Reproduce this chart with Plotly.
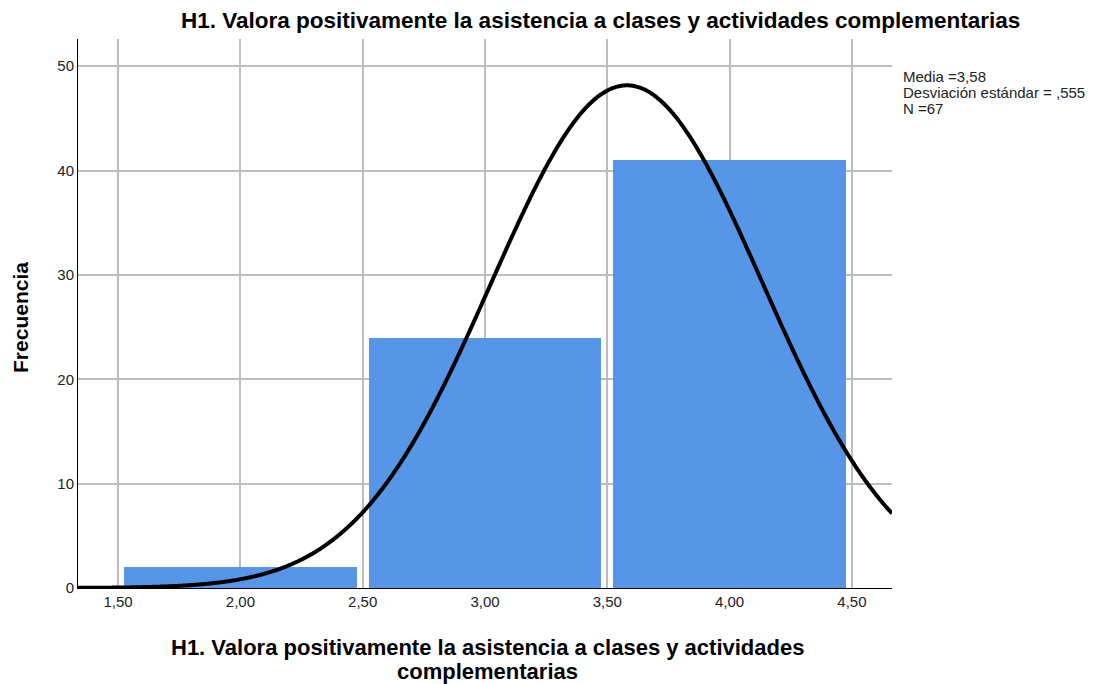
import numpy as np
import plotly.graph_objects as go

# datos del histograma
bin_centers = [2.0, 3.0, 4.0]
frecuencias = [2, 24, 41]
bin_width = 1.0

media = 3.58
desv = 0.555
n = 67

x_tickvals = [1.5, 2.0, 2.5, 3.0, 3.5, 4.0, 4.5]
x_ticktext = ["1,50", "2,00", "2,50", "3,00", "3,50", "4,00", "4,50"]
y_tickvals = [0, 10, 20, 30, 40, 50]

titulo = "H1. Valora positivamente la asistencia a clases y actividades complementarias"
titulo_x1 = "H1. Valora positivamente la asistencia a clases y actividades"
titulo_x2 = "complementarias"
stats_lines = ["Media =3,58", "Desviación estándar = ,555", "N =67"]

x_min, x_max = 1.336, 4.664

# curva normal ajustada (media, desv, N)
xc = np.linspace(x_min, x_max, 600)
yc = n * bin_width / (desv * np.sqrt(2 * np.pi)) * np.exp(-0.5 * ((xc - media) / desv) ** 2)

fig = go.Figure()
fig.add_trace(go.Bar(
    x=bin_centers, y=frecuencias, width=0.95,
    marker=dict(color="#5596E6", line=dict(width=0)),
    showlegend=False, hoverinfo="x+y",
))
fig.add_trace(go.Scatter(
    x=xc, y=yc, mode="lines",
    line=dict(color="black", width=4, shape="spline"),
    showlegend=False, hoverinfo="skip",
))

fig.update_layout(
    width=1094, height=684,
    margin=dict(l=70, r=210, t=31, b=104),
    paper_bgcolor="white", plot_bgcolor="white",
    font=dict(family="Liberation Sans, Arial", color="#222222", size=15),
    bargap=0,
)
fig.update_xaxes(
    range=[x_min, x_max], tickvals=x_tickvals, ticktext=x_ticktext,
    showgrid=True, gridcolor="#BEBEBE", gridwidth=1.5,
    showline=True, linecolor="black", linewidth=1,
    ticks="", zeroline=False,
    tickfont=dict(size=15, color="#222222"),
)
fig.update_yaxes(
    range=[0, 52.6], tickvals=y_tickvals,
    showgrid=True, gridcolor="#BEBEBE", gridwidth=1.5,
    showline=True, linecolor="black", linewidth=1,
    ticks="", zeroline=False,
    tickfont=dict(size=15, color="#222222"),
)

# titulos
fig.add_annotation(xref="paper", yref="paper", x=0.6425, y=1.0346,
                   xanchor="center", yanchor="middle", showarrow=False,
                   text="<b>" + titulo + "</b>", font=dict(size=22.5, color="black"))
fig.add_annotation(xref="paper", yref="paper", x=0.5025, y=-0.1075,
                   xanchor="center", yanchor="middle", showarrow=False,
                   text="<b>" + titulo_x1 + "</b>", font=dict(size=22, color="black"))
fig.add_annotation(xref="paper", yref="paper", x=0.5025, y=-0.1512,
                   xanchor="center", yanchor="middle", showarrow=False,
                   text="<b>" + titulo_x2 + "</b>", font=dict(size=22, color="black"))
fig.add_annotation(xref="paper", yref="paper", x=-0.0713, y=0.4936,
                   xanchor="center", yanchor="middle", showarrow=False, textangle=-90,
                   text="<b>Frecuencia</b>", font=dict(size=21, color="black"))

# estadisticos
for i, linea in enumerate(stats_lines):
    fig.add_annotation(xref="paper", yref="paper", x=1.011, y=(588 - 76 - i * 16.5) / 549,
                       xanchor="left", yanchor="middle", showarrow=False, align="left",
                       text=linea, font=dict(size=15, color="#222222"))

fig.write_html("out.html")
